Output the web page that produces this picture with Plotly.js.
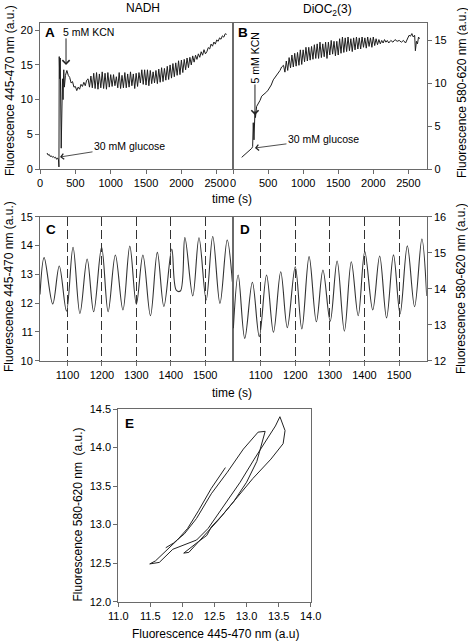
<!DOCTYPE html>
<html>
<head>
<meta charset="utf-8">
<script src="https://cdn.plot.ly/plotly-3.0.1.min.js"></script>
<style>html,body{margin:0;padding:0;background:#fff;}#chart{width:468px;height:642px;}</style>
</head>
<body>
<div id="chart"></div>
<script>
// ---------- Panel A: NADH overview ----------
const nadhTime = [
  100,115,130,145,160,175,190,205,220,235,
  250,262,268,272,280,286,300,318,326,336,
  345,360,380,400,420,440,460,480,500,520,
  540,560,580,600,620,640,660,
  680,700,720,740,760,780,800,820,840,860,
  880,900,920,940,960,980,1000,1020,1040,1060,
  1080,1100,1120,1140,1160,1180,1200,1220,1240,1260,
  1280,1300,1320,1340,1360,1380,1400,1420,1440,1460,
  1480,1500,1520,1540,1560,1580,1600,1620,1640,1660,
  1680,1700,1720,1740,1760,1780,1800,1820,1840,1860,
  1880,1900,1920,1940,1960,1980,2000,2020,2040,2060,
  2080,2100,2120,2140,2160,2180,2200,2220,2240,2260,
  2280,2300,2320,2340,2360,2380,2400,2420,2440,2460,
  2480,2500,2520,2540,2560,2580,2600,2620,2640
];
const nadhValue = [
  2.3,2.0,2.1,1.8,1.9,1.7,1.8,1.6,1.7,1.4,
  1.6,1.3,0.3,16.2,13.0,16.0,3.0,13.0,10.0,14.3,
  11.8,13.5,14.2,13.5,13.2,12.4,12.6,11.8,11.9,11.3,
  11.8,11.5,12.2,11.9,12.5,12.0,12.8,
  13.0,11.8,13.4,11.7,13.8,11.6,13.9,11.5,13.7,11.7,
  14.0,11.6,13.8,11.5,13.9,11.8,13.6,11.9,13.6,12.0,
  13.3,11.7,13.9,11.6,13.5,11.7,13.9,11.7,13.7,11.8,
  14.0,12.0,13.7,11.6,13.8,11.9,13.9,12.4,14.3,12.2,
  14.3,12.1,14.3,12.0,14.2,12.3,14.0,12.4,14.2,12.3,
  14.4,12.5,14.6,12.6,14.5,12.8,14.8,12.9,15.0,13.1,
  15.2,13.3,15.3,13.5,15.6,13.6,15.7,13.9,15.8,14.3,
  16.0,14.6,16.1,15.0,16.3,15.4,16.4,15.8,16.6,16.1,
  16.9,16.4,17.2,16.6,16.9,17.5,17.3,18.0,17.7,18.3,
  18.0,18.6,18.4,18.9,18.7,19.2,19.0,19.5,19.4
];

// ---------- Panel B: DiOC2(3) overview ----------
const diocTime = [
  124,160,195,220,242,266,280,289,299,313,
  320,337,360,385,409,440,480,500,518,545,
  574,610,645,670,693,
  720,740,760,780,800,820,840,860,880,900,
  920,940,960,980,1000,1020,1040,1060,1080,1100,
  1120,1140,1160,1180,1200,1220,1240,1260,1280,1300,
  1320,1340,1360,1380,1400,1420,1440,1460,1480,1500,
  1520,1540,1560,1580,1600,1620,1640,1660,1680,1700,
  1720,1740,1760,1780,1800,1820,1840,1860,1880,1900,
  1920,1940,1960,1980,2000,2020,2040,2060,2080,2100,
  2120,2140,2160,2180,2200,
  2220,2250,2280,2310,2340,2370,2400,2430,2460,2490,
  2510,2530,2550,2570,2590,2600,2615,2630,2645,2660
];
const diocValue = [
  1.36,1.6,1.83,2.0,2.2,2.4,2.6,5.4,3.4,6.7,
  6.0,7.3,7.6,8.0,8.5,8.7,9.0,9.2,9.4,9.8,
  10.4,10.8,11.3,11.5,11.9,
  12.1,11.3,12.6,11.5,13.0,11.8,13.3,11.9,13.5,12.0,
  13.6,12.1,13.9,12.2,13.9,12.5,14.2,12.6,14.2,12.7,
  14.3,12.8,14.5,12.9,14.6,12.9,14.8,13.0,14.6,13.1,
  14.8,12.9,14.8,13.3,15.0,13.4,14.9,13.2,14.9,13.3,
  15.2,13.5,15.4,13.6,15.3,13.7,15.4,13.8,15.2,13.7,
  15.3,13.9,15.4,14.0,15.3,14.0,15.4,14.2,15.3,14.1,
  15.4,14.3,15.3,14.2,15.4,14.4,15.2,14.5,15.1,14.6,
  15.0,14.7,15.1,14.8,15.0,
  14.7,15.0,14.8,15.1,14.9,15.0,14.8,15.0,14.7,15.2,
  15.6,15.5,15.8,15.4,15.6,13.8,14.9,14.6,15.4,15.2
];

// ---------- Panel C: NADH detail (peaks and troughs) ----------
const nadhDetailTime = [1020,1032,1057,1076,1097,1116,1136,1157,1176,1199,1218,1239,1261,1281,1300,1319,1341,1361,1380,1403,1416,1428,1441,1464,1482,1503,1522,1543,1564,1579];
const nadhDetailValue = [12.3,13.58,11.97,13.29,11.72,13.94,11.64,13.53,11.70,13.94,11.70,13.67,11.76,13.98,11.96,13.67,11.56,13.76,11.88,13.88,12.45,12.42,14.28,12.25,14.27,12.11,14.31,11.99,14.19,12.74];

// ---------- Panel D: DiOC2(3) detail ----------
const diocDetailTime = [1021,1035,1054,1076,1096,1117,1137,1158,1177,1200,1219,1240,1261,1280,1301,1321,1342,1362,1382,1401,1424,1444,1464,1484,1503,1524,1545,1566,1580];
const diocDetailValue = [12.9,14.38,12.62,14.18,12.67,14.38,12.79,14.47,12.92,14.61,12.88,14.89,13.08,14.52,13.10,14.77,12.82,14.75,13.25,15.03,13.41,14.91,13.19,14.94,13.30,15.19,13.50,15.38,13.8];

// ---------- Panel E: phase plot ----------
const phaseNadh = [12.67,12.45,12.25,12.08,11.92,11.72,11.58,11.49,11.64,11.85,12.05,12.22,12.40,12.65,12.90,13.12,13.32,13.45,13.52,13.60,13.57,13.38,13.10,12.85,12.62,12.45,12.38,12.25,12.10,12.02,12.10,12.30,12.55,12.80,13.00,13.16,13.29,13.18,12.95,12.70,12.45,12.22,12.03,11.86,11.74];
const phaseDioc = [13.74,13.47,13.18,12.95,12.80,12.64,12.53,12.49,12.51,12.68,12.75,12.80,12.95,13.25,13.55,13.85,14.10,14.28,14.40,14.22,14.05,13.85,13.60,13.35,13.12,12.97,12.86,12.78,12.68,12.63,12.64,12.82,13.05,13.30,13.55,13.82,14.21,14.20,13.98,13.68,13.40,13.08,12.88,12.76,12.70];

// tick labels
const overviewTicksA = [0,500,1000,1500,2000,2500];
const yTicksA = [0,5,10,15,20];
const yTicksB = [0,5,10,15];
const detailTicks = [1100,1200,1300,1400,1500];
const phaseTicksX = [11.0,11.5,12.0,12.5,13.0,13.5,14.0];
const phaseTicksY = [12.0,12.5,13.0,13.5,14.0,14.5];

const W = 468, H = 642;
const px = v => v / W;
const py = v => 1 - v / H;
const LINE = '#6a6a6a';
const FONT = 'Liberation Sans, Arial, sans-serif';

function ax(extra) {
  return Object.assign({
    showline: true, linecolor: LINE, linewidth: 1, mirror: true,
    ticks: 'outside', ticklen: 4, tickcolor: LINE, tickwidth: 1,
    showgrid: false, zeroline: false, fixedrange: true,
    tickfont: {family: FONT, size: 11, color: '#000'}
  }, extra);
}

const trace = (x, y, xa, ya, extra) => Object.assign({
  x: x, y: y, xaxis: xa, yaxis: ya, type: 'scatter', mode: 'lines',
  line: {color: '#1e1e1e', width: 1}, hoverinfo: 'skip'
}, extra || {});

const data = [
  trace(nadhTime, nadhValue, 'x', 'y'),
  trace(diocTime, diocValue, 'x2', 'y2'),
  trace(nadhDetailTime, nadhDetailValue, 'x3', 'y3', {line: {color: '#333', width: 1.1, shape: 'spline', smoothing: 1}}),
  trace(diocDetailTime, diocDetailValue, 'x4', 'y4', {line: {color: '#333', width: 1.1, shape: 'spline', smoothing: 1}}),
  trace(phaseNadh, phaseDioc, 'x5', 'y5', {line: {color: '#222', width: 1}})
];

const gridDetail = {showgrid: true, gridcolor: '#333', gridwidth: 1, griddash: '9px,4px'};

function lab(x, y, text, opts) {
  return Object.assign({
    xref: 'paper', yref: 'paper', x: px(x), y: py(y), text: text,
    showarrow: false, xanchor: 'center', yanchor: 'middle',
    font: {family: FONT, size: 12, color: '#000'}
  }, opts || {});
}
function letter(x, y, t) {
  return lab(x, y, '<b>' + t + '</b>', {xanchor: 'left', font: {family: FONT, size: 13.5, color: '#000'}});
}
const noteFont = {family: FONT, size: 10.5, color: '#000'};

const layout = {
  width: W, height: H,
  margin: {l: 0, r: 0, t: 0, b: 0},
  paper_bgcolor: '#fff', plot_bgcolor: '#fff',
  showlegend: false,
  font: {family: FONT, size: 11, color: '#000'},
  xaxis: ax({domain: [px(40), px(233)], range: [0, 2730], tickvals: overviewTicksA, anchor: 'y'}),
  yaxis: ax({domain: [py(169), py(23.3)], range: [0, 21], tickvals: yTicksA, anchor: 'x'}),
  xaxis2: ax({domain: [px(233), px(427.3)], range: [0, 2770], tickvals: overviewTicksA, anchor: 'y2'}),
  yaxis2: ax({domain: [py(169), py(23.3)], range: [0, 17], tickvals: yTicksB, anchor: 'x2', side: 'right'}),
  xaxis3: ax(Object.assign({domain: [px(40), px(232.7)], range: [1020, 1580], tickvals: detailTicks, anchor: 'y3'}, gridDetail)),
  yaxis3: ax({domain: [py(360.7), py(216.7)], range: [10, 15], dtick: 1, anchor: 'x3'}),
  xaxis4: ax(Object.assign({domain: [px(233), px(426.7)], range: [1020, 1580], tickvals: detailTicks, anchor: 'y4'}, gridDetail)),
  yaxis4: ax({domain: [py(360.7), py(216.7)], range: [12, 16], dtick: 1, anchor: 'x4', side: 'right'}),
  xaxis5: ax({domain: [px(118.3), px(310.7)], range: [11, 14], tickvals: phaseTicksX, tickformat: '.1f', anchor: 'y5'}),
  yaxis5: ax({domain: [py(601.7), py(409)], range: [12, 14.5], tickvals: phaseTicksY, tickformat: '.1f', anchor: 'x5'}),
  annotations: [
    lab(143, 8.5, 'NADH'),
    lab(327, 10, 'DiOC<sub>2</sub>(3)'),
    lab(10, 91, 'Fluorescence 445-470 nm (a.u.)', {textangle: -90}),
    lab(462, 93, 'Fluorescence 580-620 nm (a.u.)', {textangle: -90}),
    lab(9, 287, 'Fluorescence 445-470 nm (a.u.)', {textangle: -90}),
    lab(461, 289, 'Fluorescence 580-620 nm (a.u.)', {textangle: -90}),
    lab(77.5, 515, 'Fluorescence 580-620 nm  (a.u.)', {textangle: -90}),
    lab(215, 634, 'Fluorescence 445-470 nm (a.u)'),
    lab(232, 199, 'time (s)'),
    lab(232, 393, 'time (s)'),
    letter(43, 33, 'A'),
    letter(236, 33, 'B'),
    letter(44, 229.5, 'C'),
    letter(238, 229.5, 'D'),
    letter(122.7, 423.5, 'E'),
    // A annotations
    lab(88, 31.5, '5 mM KCN', {font: noteFont}),
    {xref: 'x', yref: 'y', x: 368, y: 15, ax: 0, ay: -28, text: '', showarrow: true,
     arrowhead: 4, arrowsize: 1.4, arrowwidth: 1, arrowcolor: '#222'},
    {xref: 'x', yref: 'y', x: 283, y: 1.73, ax: 69.5, ay: -11, text: '30 mM glucose', showarrow: true,
     arrowhead: 4, arrowsize: 1.4, arrowwidth: 0.8, arrowcolor: '#222', font: noteFont},
    // B annotations
    {xref: 'x2', yref: 'y2', x: 313, y: 6.3, ax: 0, ay: -57.5, text: '5 mM KCN', textangle: -90, showarrow: true,
     arrowhead: 4, arrowsize: 1.4, arrowwidth: 1, arrowcolor: '#222', font: noteFont},
    {xref: 'x2', yref: 'y2', x: 313, y: 2.45, ax: 68.5, ay: -9, text: '30 mM glucose', showarrow: true,
     arrowhead: 4, arrowsize: 1.4, arrowwidth: 0.8, arrowcolor: '#222', font: noteFont}
  ]
};

Plotly.newPlot('chart', data, layout, {staticPlot: true, displayModeBar: false});
</script>
</body>
</html>
